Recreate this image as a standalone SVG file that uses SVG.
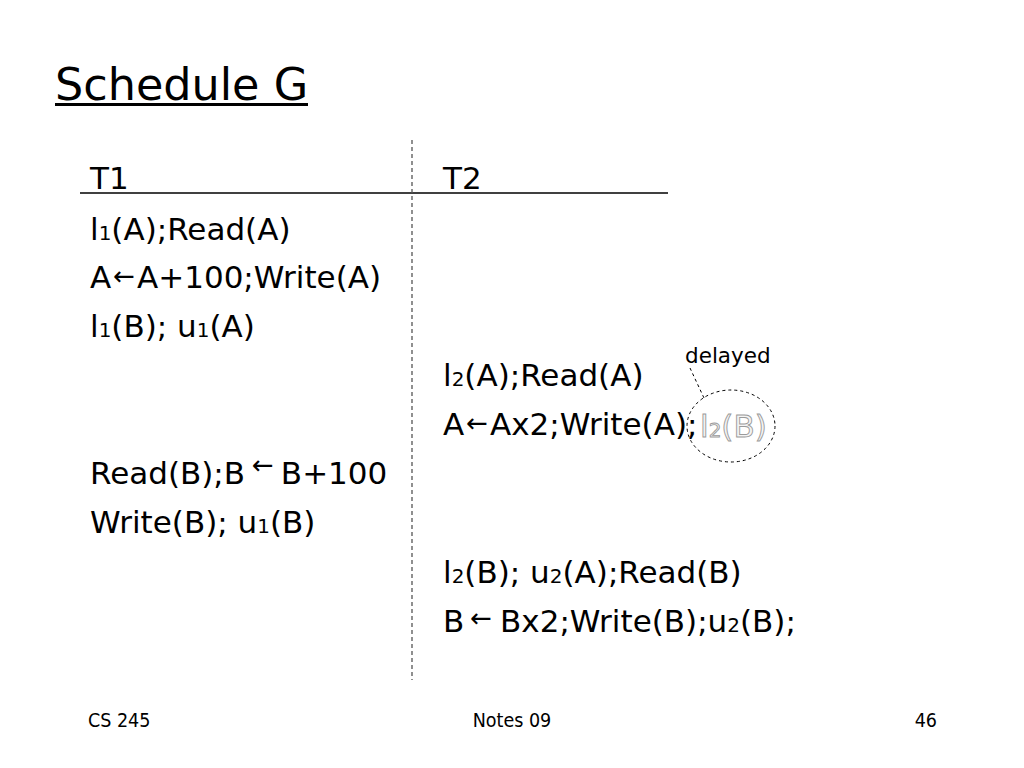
<svg xmlns="http://www.w3.org/2000/svg" width="1024" height="768" viewBox="0 0 1024 768">
<style>
.t{font-family:"DejaVu Sans","Verdana",sans-serif;font-size:31px;fill:#000}
.s{font-size:20px}
.ar{font-size:26px}
.f{font-family:"DejaVu Sans Condensed","DejaVu Sans",sans-serif;font-size:19.5px;fill:#000}
</style>
<rect width="1024" height="768" fill="#fff"/>
<g id="title">
<text x="55" y="100" style="font-family:'DejaVu Sans',sans-serif;font-size:44.5px">Schedule G</text>
<line x1="55" y1="104.5" x2="308" y2="104.5" stroke="#000" stroke-width="3"/>
</g>
<g id="connectors">
<line x1="80" y1="193" x2="668" y2="193" stroke="#000" stroke-width="1.3"/>
<line x1="412" y1="140" x2="412" y2="680" stroke="#555" stroke-width="1.3" stroke-dasharray="4,3"/>
<line x1="690" y1="368" x2="704" y2="398" stroke="#000" stroke-width="1" stroke-dasharray="3,3"/>
</g>
<g id="t1">
<text class="t" x="90" y="189">T1</text>
<text class="t" x="90" y="240">l<tspan class="s">1</tspan>(A);Read(A)</text>
<text class="t" x="90" y="288">A<tspan class="ar" dx="2" dy="-3">←</tspan><tspan dx="2" dy="3">A+100;Write(A)</tspan></text>
<text class="t" x="90" y="337">l<tspan class="s">1</tspan>(B); u<tspan class="s">1</tspan>(A)</text>
<text class="t" x="90" y="484">Read(B);B<tspan class="ar" dx="7" dy="-10">←</tspan><tspan dx="7" dy="10">B+100</tspan></text>
<text class="t" x="90" y="533">Write(B); u<tspan class="s">1</tspan>(B)</text>
</g>
<g id="t2">
<text class="t" x="443" y="189">T2</text>
<text class="t" x="443" y="386">l<tspan class="s">2</tspan>(A);Read(A)</text>
<text class="t" x="443" y="435">A<tspan class="ar" dx="2" dy="-3">←</tspan><tspan dx="2" dy="3">Ax2;Write(A);</tspan></text>
<text class="t" x="443" y="583">l<tspan class="s">2</tspan>(B); u<tspan class="s">2</tspan>(A);Read(B)</text>
<text class="t" x="443" y="632">B<tspan class="ar" dx="6" dy="-5">←</tspan><tspan dx="8" dy="5">Bx2;Write(B);u</tspan><tspan class="s">2</tspan>(B);</text>
</g>
<g id="delayed">
<text x="685" y="363" style="font-family:'DejaVu Sans',sans-serif;font-size:21.5px">delayed</text>
<ellipse cx="731" cy="426" rx="44" ry="36" fill="none" stroke="#000" stroke-width="1" stroke-dasharray="3,3"/>
<text class="t" x="700" y="437" style="fill:#f4f4f4;stroke:#9a9a9a;stroke-width:0.9;font-size:31px">l<tspan class="s">2</tspan>(B)</text>
</g>
<g id="footer">
<text class="f" x="88" y="727">CS 245</text>
<text class="f" x="512" y="727" text-anchor="middle">Notes 09</text>
<text class="f" x="937" y="727" text-anchor="end">46</text>
</g>
</svg>
